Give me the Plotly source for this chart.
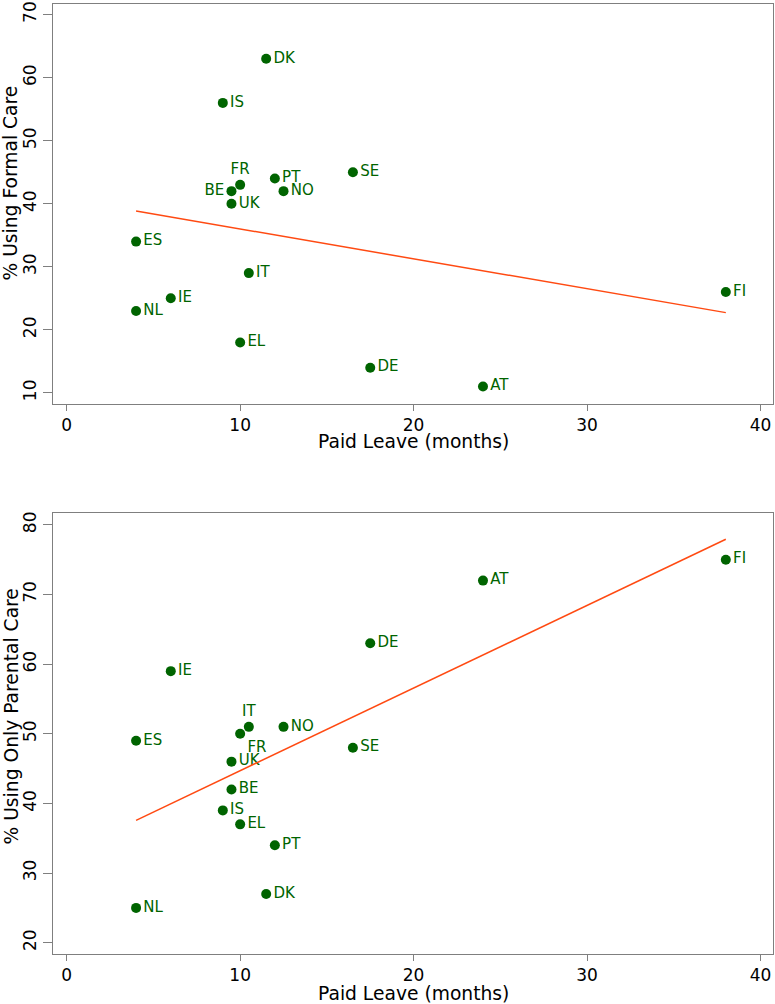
import numpy as np
import plotly.graph_objects as go

countries = ["DK", "IS", "FR", "BE", "UK", "PT", "NO", "SE", "ES", "IT", "IE", "NL", "EL", "DE", "AT", "FI"]
paid_leave = [11.5, 9, 10, 9.5, 9.5, 12, 12.5, 16.5, 4, 10.5, 6, 4, 10, 17.5, 24, 38]
formal_care = [63, 56, 43, 42, 40, 44, 42, 45, 34, 29, 25, 23, 18, 14, 11, 26]
parental_care = [27, 39, 50, 42, 46, 34, 51, 48, 49, 51, 59, 25, 37, 63, 72, 75]

pos_top = ["middle right"] * len(countries)
pos_top[countries.index("FR")] = "top center"
pos_top[countries.index("BE")] = "middle left"
pos_bot = ["middle right"] * len(countries)
pos_bot[countries.index("IT")] = "top center"
pos_bot[countries.index("FR")] = "bottom right"

GREEN = "#006400"
ORANGE = "#ff4a12"
FONT = "DejaVu Sans, Liberation Sans, Arial, sans-serif"

fig = go.Figure()

def add_panel(yvals, positions, xa, ya):
    fig.add_trace(go.Scatter(
        x=paid_leave, y=yvals, mode="markers+text", text=countries,
        textposition=positions, textfont=dict(color=GREEN, size=15, family=FONT),
        marker=dict(color=GREEN, size=10), xaxis=xa, yaxis=ya, showlegend=False,
        cliponaxis=False))
    b, a = np.polyfit(paid_leave, yvals, 1)
    xs = np.array([min(paid_leave), max(paid_leave)])
    fig.add_trace(go.Scatter(
        x=xs, y=a + b * xs, mode="lines", line=dict(color=ORANGE, width=1.5),
        xaxis=xa, yaxis=ya, showlegend=False))

add_panel(formal_care, pos_top, "x", "y")
add_panel(parental_care, pos_bot, "x2", "y2")

axis_common = dict(showline=True, mirror=True, linecolor="#7f7f7f", linewidth=1,
                   showgrid=False, zeroline=False, ticks="outside", tickcolor="#7f7f7f",
                   ticklabeloverflow="allow",
                   tickfont=dict(size=17, color="black", family=FONT))

fig.update_layout(
    width=775, height=1004,
    margin=dict(l=53, r=1, t=2, b=50),
    plot_bgcolor="white", paper_bgcolor="white",
    font=dict(family=FONT),
    xaxis=dict(domain=[0, 1], anchor="y", range=[-0.79, 40.72], tickvals=[0, 10, 20, 30, 40],
               ticklen=6, **axis_common),
    yaxis=dict(domain=[0.5791, 1], anchor="x", range=[8.26, 71.69], tickvals=[10, 20, 30, 40, 50, 60, 70],
               ticklen=9, tickangle=-90, **axis_common),
    xaxis2=dict(domain=[0, 1], anchor="y2", range=[-0.79, 40.72], tickvals=[0, 10, 20, 30, 40],
                ticklen=6, **axis_common),
    yaxis2=dict(domain=[0, 0.464], anchor="x2", range=[18.38, 81.68], tickvals=[20, 30, 40, 50, 60, 70, 80],
                ticklen=9, tickangle=-90, **axis_common),
)

title_font = dict(size=18.7, color="black", family=FONT)
fig.add_annotation(text="Paid Leave (months)", xref="paper", yref="paper", x=0.5, y=0.5390,
                   showarrow=False, font=title_font, xanchor="center", yanchor="middle")
fig.add_annotation(text="Paid Leave (months)", xref="paper", yref="paper", x=0.5, y=-0.0420,
                   showarrow=False, font=title_font, xanchor="center", yanchor="middle")
fig.add_annotation(text="% Using Formal Care", xref="paper", yref="paper", x=0, xshift=-42, y=0.811,
                   showarrow=False, font=title_font, textangle=-90, xanchor="center", yanchor="middle")
fig.add_annotation(text="% Using Only Parental Care", xref="paper", yref="paper", x=0, xshift=-42, y=0.25,
                   showarrow=False, font=title_font, textangle=-90, xanchor="center", yanchor="middle")

fig.write_html("out.html", config={"displayModeBar": False},
               post_script="document.body.style.margin='0';document.body.style.overflow='hidden';")
